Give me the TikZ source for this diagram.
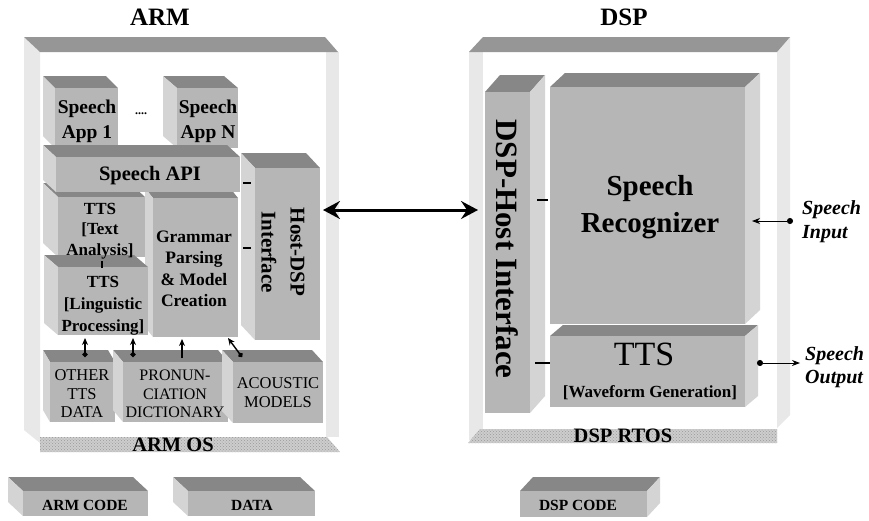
\documentclass[tikz,border=0pt]{standalone}
\usepackage{fontspec}
\setmainfont{Liberation Serif}
\usetikzlibrary{arrows.meta,patterns,fit,calc}
\definecolor{frontc}{RGB}{182,182,182}
\definecolor{topc}{RGB}{135,135,135}
\definecolor{sidec}{RGB}{212,212,212}
\definecolor{barc}{RGB}{150,150,150}
\definecolor{wallc}{RGB}{232,232,232}
\definecolor{hatchc}{RGB}{205,205,205}
\newcommand{\fsz}[2]{\fontsize{#1}{#2}\selectfont}
% box with depth towards upper left: name, x0, y0, x1, y1, dx, dy
\newcommand{\cubeL}[7]{%
 \fill[topc] (#2,#3) -- (#4,#3) -- ({#4-#6},{#3-#7}) -- ({#2-#6},{#3-#7}) -- cycle;
 \fill[sidec] (#2,#3) -- (#2,#5) -- ({#2-#6},{#5-#7}) -- ({#2-#6},{#3-#7}) -- cycle;
 \node[front, fit={(#2,#3)(#4,#5)}] (#1) {};
}
% box with depth towards upper right
\newcommand{\cubeR}[7]{%
 \fill[topc] (#2,#3) -- (#4,#3) -- ({#4+#6},{#3-#7}) -- ({#2+#6},{#3-#7}) -- cycle;
 \fill[sidec] (#4,#3) -- (#4,#5) -- ({#4+#6},{#5-#7}) -- ({#4+#6},{#3-#7}) -- cycle;
 \node[front, fit={(#2,#3)(#4,#5)}] (#1) {};
}
\tikzset{
 front/.style={inner sep=0pt, outer sep=0pt, fill=frontc},
 lbl/.style={inner sep=0pt, align=center, text=black},
 hatchbar/.style={fill=hatchc, postaction={pattern=crosshatch dots, pattern color=gray!80}},
 bigarrow/.style={line width=3pt, arrows={Stealth[length=17pt,width=18pt,inset=6pt]-Stealth[length=17pt,width=18pt,inset=6pt]}},
 sarrow/.style={line width=1.4pt, arrows={Circle[length=5pt]-Stealth[length=7pt,width=6pt]}},
 parrow/.style={line width=1.4pt, arrows={-Stealth[length=7pt,width=6pt]}},
 iarrow/.style={line width=0.9pt, arrows={Circle[length=6pt]-Stealth[length=8pt,width=6pt]}},
 tickmark/.style={line width=1.6pt},
}
\begin{document}
\begin{tikzpicture}[x=1pt,y=-1pt]
\useasboundingbox (0,0) rectangle (869,520);
\fill[white] (0,0) rectangle (869,520);

% ---------- ARM frame ----------
\fill[wallc] (24,37) -- (40,52) -- (40,443) -- (24,430) -- cycle;
\fill[wallc] (326,52) rectangle (339,437);
\fill[barc] (24,37) -- (325,37) -- (338,52) -- (40,52) -- cycle;
\path[hatchbar] (40,437) -- (327,437) -- (340,452) -- (40,452) -- cycle;
\node[lbl, font=\bfseries\fsz{25}{28}] (tARM) at (160,17) {ARM};
\node[lbl, font=\bfseries\fsz{20.5}{22}] (tARMOS) at (173,445) {ARM OS};

% ---------- DSP frame ----------
\fill[wallc] (469,52) rectangle (483,440);
\fill[wallc] (777,52) -- (790,37) -- (790,415) -- (777,428) -- cycle;
\fill[barc] (483,37) -- (790,37) -- (777,52) -- (469,52) -- cycle;
\path[hatchbar] (480,429) -- (777,429) -- (777,443) -- (468,443) -- cycle;
\node[lbl, font=\bfseries\fsz{25}{28}] (tDSP) at (624,17) {DSP};
\node[lbl, font=\bfseries\fsz{20.5}{22}] (tRTOS) at (623,436) {DSP RTOS};

% ---------- ARM boxes ----------
\cubeL{app1}{55}{88}{118}{148}{12}{12}
\cubeL{appN}{177}{88}{238}{148}{14}{12}
\cubeL{ta}{58}{197}{145}{257}{15}{14}
\cubeL{gr}{153}{198}{238}{337}{8}{10}
\cubeL{api}{56}{157}{240}{192}{13}{12}
\cubeL{ling}{58}{267}{148}{335}{14}{12}
\cubeL{hd}{255}{168}{320}{340}{14}{15}
\cubeL{other}{50}{362}{115}{422}{7}{12}
\cubeL{pron}{123}{362}{228}{422}{10}{12}
\cubeL{acou}{233}{362}{323}{423}{11}{12}
\cubeL{armcode}{23}{491}{148}{516}{15}{14}
\cubeL{data}{188}{491}{315}{516}{15}{14}

\node[lbl, font=\bfseries\fsz{19.5}{25}] (tapp1) at (87,121) {Speech\\App 1};
\node[lbl, font=\bfseries\fsz{19.5}{25}] (tappN) at (208,121) {Speech\\App N};
\node[lbl, font=\bfseries\fsz{12}{14}] (tdots) at (141,114) {....};
\node[lbl, font=\bfseries\fsz{20.5}{22}] (tapi) at (150,176) {Speech API};
\node[lbl, font=\bfseries\fsz{17}{20.5}] (tta) at (100,231) {TTS\\{[}Text\\Analysis{]}};
\node[lbl, font=\bfseries\fsz{17}{22}] (tling) at (103,306) {TTS\\{[}Linguistic\\Processing{]}};
\node[lbl, font=\bfseries\fsz{17.5}{21.5}] (tgr) at (194,269) {Grammar\\Parsing\\\& Model\\Creation};
\node[lbl, font=\bfseries\fsz{21}{29}, rotate=-90] (thd) at (283,252) {Host-DSP\\Interface};
\node[lbl, font=\fsz{16.5}{18.5}] (tother) at (82,394) {OTHER\\TTS\\DATA};
\node[lbl, font=\fsz{16}{18.5}] (tpron) at (175,394) {PRONUN-\\CIATION\\DICTIONARY};
\node[lbl, font=\fsz{16.5}{19}] (tacou) at (278,393) {ACOUSTIC\\MODELS};
\node[lbl, font=\bfseries\fsz{15.5}{18}] (tarmcode) at (85,505) {ARM CODE};
\node[lbl, font=\bfseries\fsz{15.5}{18}] (tdata) at (252,505) {DATA};

% connectors inside ARM
\draw[tickmark] (243,183) -- (251,183);
\draw[tickmark] (243,248) -- (251,248);
\draw[line width=1.4pt] (102,261) -- (102,268);
\coordinate (a1) at (85,0);
\coordinate (a2) at (133,0);
\coordinate (a3) at (182,0);
\draw[sarrow] ($(other.north -| a1)+(0,-5)$) -- ($(ling.south -| a1)+(0,3)$);
\draw[sarrow] ($(pron.north -| a2)+(0,-5)$) -- ($(ling.south -| a2)+(0,3)$);
\draw[parrow] ($(pron.north -| a3)+(0,-4)$) -- ($(gr.south -| a3)+(0,2)$);
\draw[sarrow] ($(acou.north west)+(9,-5)$) -- ($(gr.south east)+(-10,1)$);

% ---------- DSP boxes ----------
\cubeR{dh}{485}{92}{530}{413}{15}{17}
\cubeR{sr}{550}{87}{745}{324}{15}{14}
\cubeR{tts}{550}{336}{745}{407}{13}{11}
\cubeR{dspcode}{520}{491}{647}{517}{13}{14}

\node[lbl, font=\bfseries\fsz{31}{34}, rotate=-90] (tdh) at (507,249) {DSP-Host Interface};
\node[lbl, font=\bfseries\fsz{29}{37}] (tsr) at (650,207) {Speech\\Recognizer};
\node[lbl, font=\fsz{34}{36}] (ttts) at (644,354) {TTS};
\node[lbl, font=\bfseries\fsz{17}{18}] (twave) at (650,393) {{[}Waveform Generation{]}};
\node[lbl, font=\bfseries\fsz{15.5}{18}] (tdspcode) at (578,505) {DSP CODE};

\draw[tickmark] (537,200) -- (548,200);
\draw[tickmark] (535,363) -- (550,363);

% speech in / out
\coordinate (yin) at (0,221);
\coordinate (yout) at (0,363);
\draw[iarrow] ($(sr.east |- yin)+(48,0)$) -- ($(sr.east |- yin)+(7,0)$);
\draw[iarrow] ($(tts.east |- yout)+(12,0)$) -- ($(tts.east |- yout)+(55,0)$);
\node[lbl, anchor=west, align=left, font=\bfseries\itshape\fsz{20}{24}] (tin) at (802,222) {Speech\\Input};
\node[lbl, anchor=west, align=left, font=\bfseries\itshape\fsz{20}{23}] (tout) at (805,367) {Speech\\Output};

% host link
\coordinate (ylink) at (0,210);
\draw[bigarrow] ($(hd.east |- ylink)+(3,0)$) -- ($(dh.west |- ylink)+(-7,0)$);
\end{tikzpicture}
\end{document}
